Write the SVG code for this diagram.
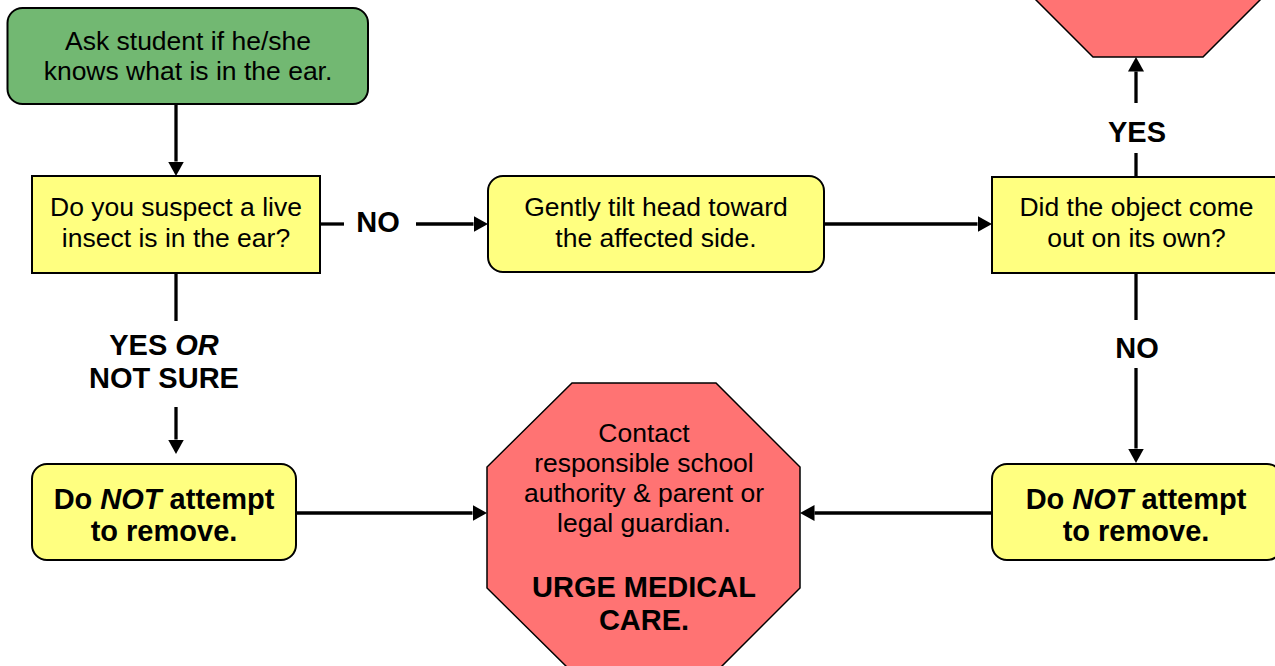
<svg xmlns="http://www.w3.org/2000/svg" width="1275" height="666" viewBox="0 0 1275 666">
<style>
.box{stroke:#000;stroke-width:2}
.green{fill:#72B872}
.yellow{fill:#FFFF80}
.red{fill:#FF7373;stroke:#000;stroke-width:1.5}
.t{font-family:"Liberation Sans",Arial,sans-serif;font-size:26.5px;text-anchor:middle;fill:#000}
.b{font-family:"Liberation Sans",Arial,sans-serif;font-size:29px;font-weight:bold;text-anchor:middle;fill:#000}
.c{stroke:#000;stroke-width:3.3;fill:none}
</style>
<defs>
<marker id="ah" markerUnits="userSpaceOnUse" markerWidth="15" markerHeight="17" refX="0" refY="8.5" orient="auto">
<path d="M0,0.5 L14.5,8.5 L0,16.5 z" fill="#000"/>
</marker>
</defs>
<rect width="1275" height="666" fill="#fff"/>

<g id="connectors">
<line class="c" x1="176" y1="104" x2="176" y2="161.5" marker-end="url(#ah)"/>
<line class="c" x1="320" y1="224" x2="344" y2="224"/>
<line class="c" x1="416" y1="224" x2="473.5" y2="224" marker-end="url(#ah)"/>
<text class="b" x="378" y="232">NO</text>
<line class="c" x1="824" y1="224" x2="977.5" y2="224" marker-end="url(#ah)"/>
<line class="c" x1="1136" y1="176" x2="1136" y2="153"/>
<text class="b" x="1137" y="142">YES</text>
<line class="c" x1="1136" y1="103" x2="1136" y2="71.5" marker-end="url(#ah)"/>
<line class="c" x1="1136" y1="273" x2="1136" y2="320"/>
<text class="b" x="1137" y="358">NO</text>
<line class="c" x1="1136" y1="368" x2="1136" y2="448.5" marker-end="url(#ah)"/>
<line class="c" x1="992" y1="513" x2="814.5" y2="513" marker-end="url(#ah)"/>
<line class="c" x1="176" y1="273" x2="176" y2="321"/>
<text class="b" x="164" y="355">YES <tspan font-style="italic">OR</tspan></text>
<text class="b" x="164" y="388">NOT SURE</text>
<line class="c" x1="176" y1="407" x2="176" y2="439.5" marker-end="url(#ah)"/>
<line class="c" x1="296" y1="513" x2="472.5" y2="513" marker-end="url(#ah)"/>
</g>

<g id="top-stop">
<polygon class="red" points="1093,57 1203,57 1270,-10 1026,-10"/>
</g>

<g id="ask">
<rect class="box green" x="7.5" y="8" width="360.5" height="96" rx="15"/>
<text class="t" x="188" y="50">Ask student if he/she</text>
<text class="t" x="188" y="80">knows what is in the ear.</text>
</g>

<g id="suspect">
<rect class="box yellow" x="32" y="176" width="288" height="97"/>
<text class="t" x="176" y="216">Do you suspect a live</text>
<text class="t" x="176" y="246.5">insect is in the ear?</text>
</g>

<g id="tilt">
<rect class="box yellow" x="488" y="176" width="336" height="96" rx="15"/>
<text class="t" x="656" y="216">Gently tilt head toward</text>
<text class="t" x="656" y="246.5">the affected side.</text>
</g>

<g id="came-out">
<rect class="box yellow" x="992" y="177" width="289" height="96"/>
<text class="t" x="1136.5" y="215.5">Did the object come</text>
<text class="t" x="1136.5" y="246.5">out on its own?</text>
</g>

<g id="notremove-left">
<rect class="box yellow" x="32" y="464" width="264" height="96" rx="15"/>
<text class="b" x="164" y="508.5">Do <tspan font-style="italic">NOT</tspan> attempt</text>
<text class="b" x="164" y="540.5">to remove.</text>
</g>

<g id="notremove-right">
<rect class="box yellow" x="992" y="464" width="290" height="96" rx="15"/>
<text class="b" x="1136" y="508.5">Do <tspan font-style="italic">NOT</tspan> attempt</text>
<text class="b" x="1136" y="540.5">to remove.</text>
</g>

<g id="contact">
<polygon class="red" points="572,383 716,383 800,467 800,588 716,672 572,672 487,588 487,467"/>
<text class="t" x="644" y="441.5">Contact</text>
<text class="t" x="644" y="471.5">responsible school</text>
<text class="t" x="644" y="501.5">authority &amp; parent or</text>
<text class="t" x="644" y="531.5">legal guardian.</text>
<text class="b" x="644" y="597">URGE MEDICAL</text>
<text class="b" x="644" y="630">CARE.</text>
</g>
</svg>
